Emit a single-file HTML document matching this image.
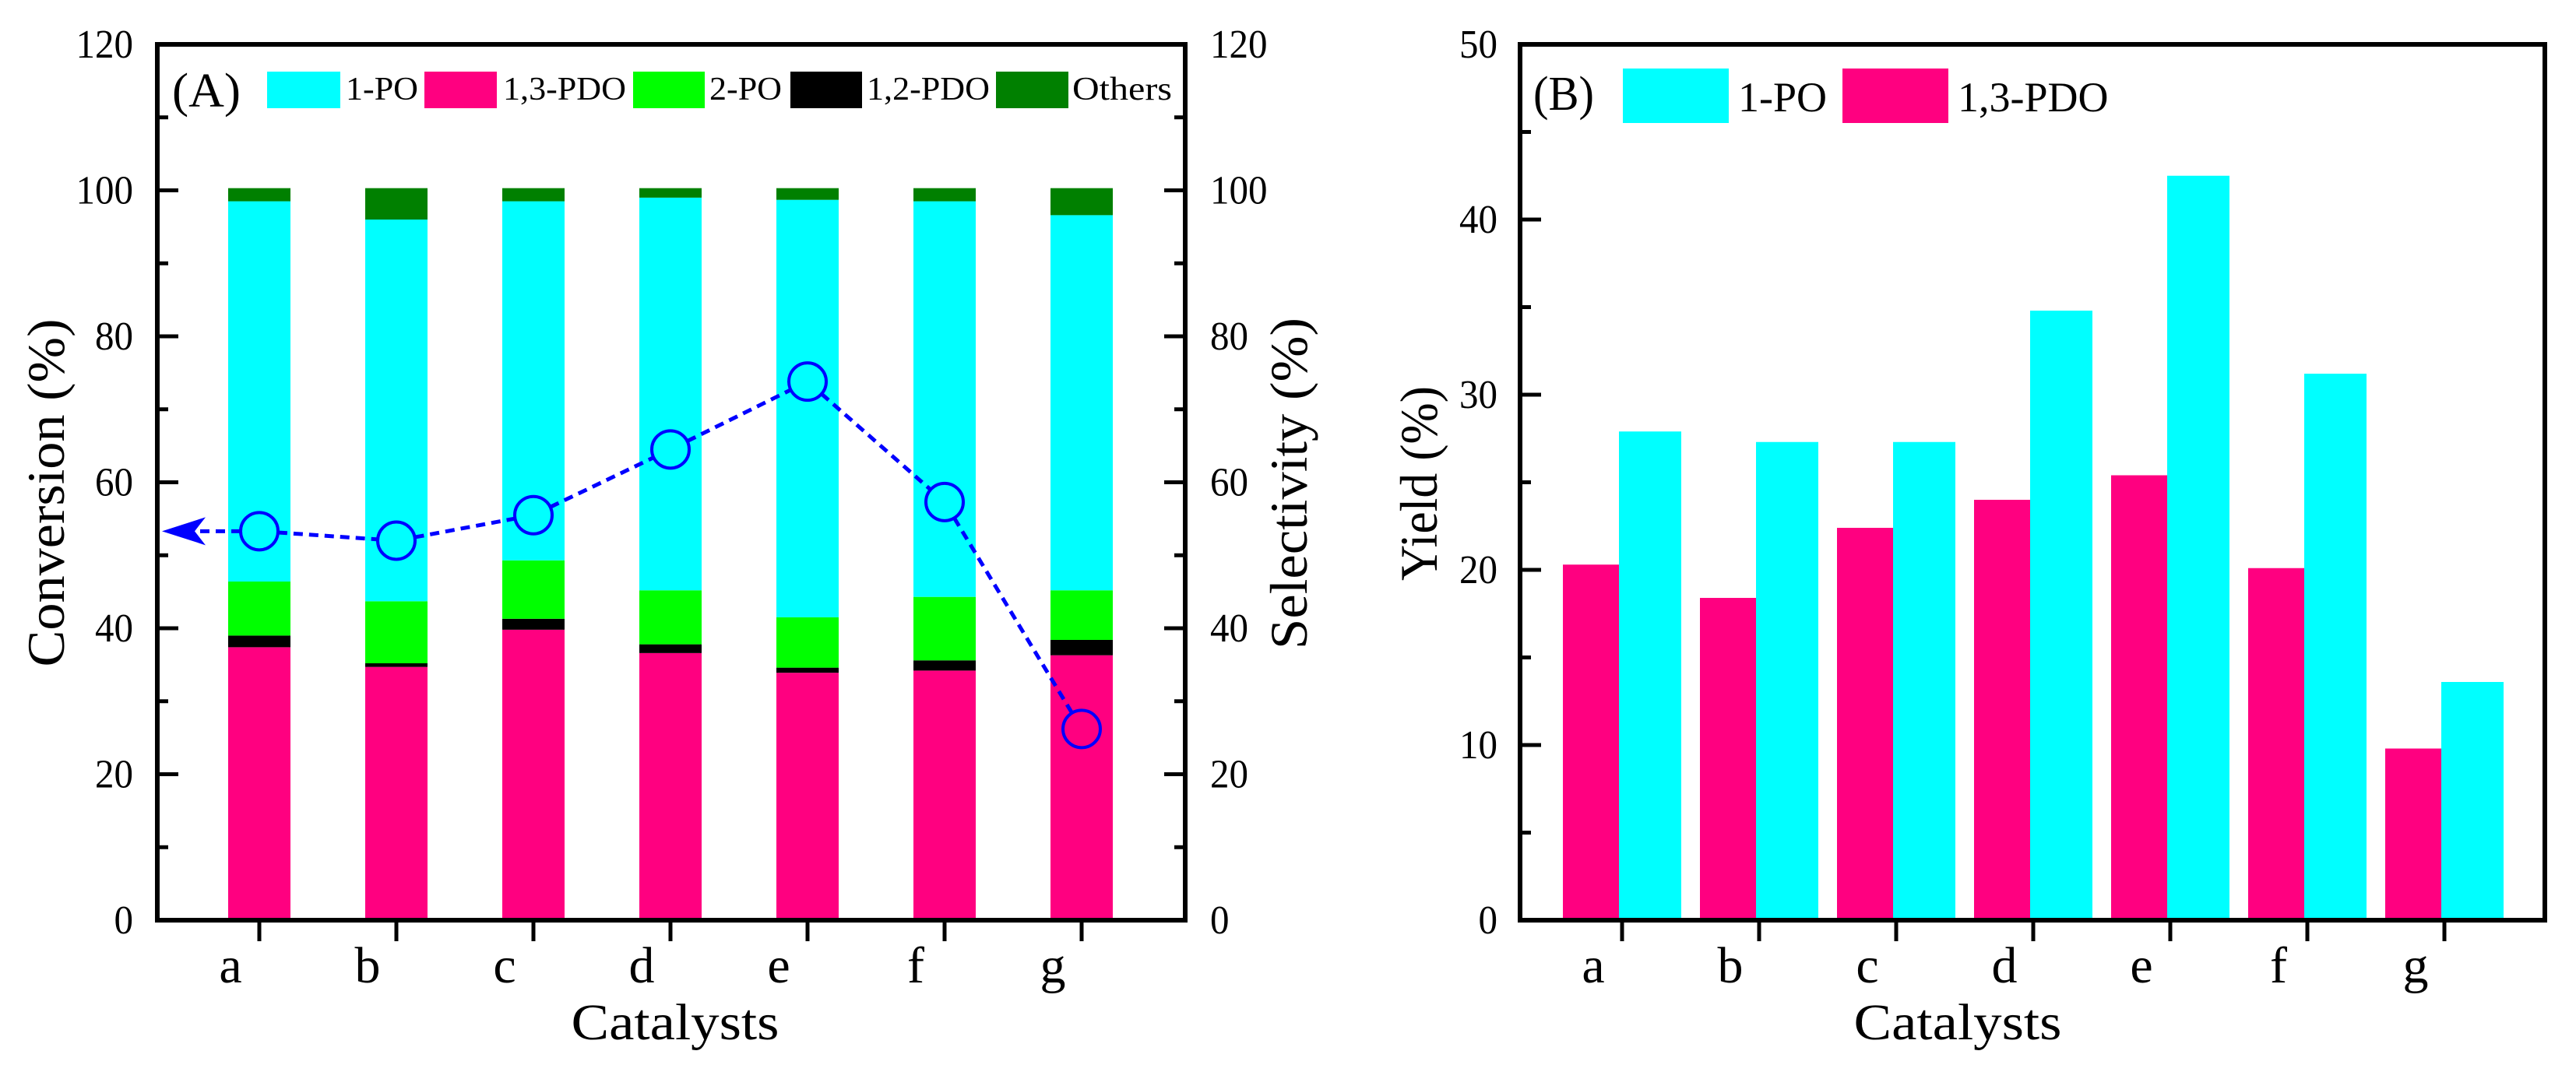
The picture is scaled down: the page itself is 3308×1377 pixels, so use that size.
<!DOCTYPE html>
<html><head><meta charset="utf-8"><style>
html,body{margin:0;padding:0;background:#fff;}
svg{display:block;}
text{font-family:"Liberation Serif",serif;fill:#000;}
</style></head><body>
<svg id="chart" width="3308" height="1377" viewBox="0 0 3308 1377" xmlns="http://www.w3.org/2000/svg">
<g id="pa"></g>
<g id="pb"></g>
</svg>
<script>
const categories = ['a','b','c','d','e','f','g'];
// Panel A cumulative stack tops (%)
const pdo13Top = [37.4,34.7,39.8,36.6,33.9,34.2,36.3];
const pdo12Top = [39.0,35.2,41.3,37.8,34.6,35.6,38.4];
const po2Top   = [46.4,43.7,49.3,45.2,41.5,44.3,45.2];
const po1Top   = [98.5,96.0,98.5,99.0,98.7,98.5,96.6];
const othersTop= [100.3,100.3,100.3,100.3,100.3,100.3,100.3];
const conversion = [53.3,52.0,55.5,64.5,73.8,57.3,26.2];
const ticksA = [0,20,40,60,80,100,120];
// Panel B yields
const yieldPO1 = [27.9,27.3,27.3,34.8,42.5,31.2,13.6];
const yieldPDO = [20.3,18.4,22.4,24.0,25.4,20.1,9.8];
const ticksB = [0,10,20,30,40,50];

const NS='http://www.w3.org/2000/svg';
function mk(parent,tag,attrs,txt){const e=document.createElementNS(NS,tag);for(const k in attrs)e.setAttribute(k,attrs[k]);if(txt!==undefined)e.textContent=txt;parent.appendChild(e);return e;}
function T(parent,attrs,txt,name){const e=mk(parent,'text',attrs,txt);


return e;}
function tickAttrs(x,y,s,anchor){const a={x:x,y:y,'font-size':52,'text-anchor':anchor,textLength:s.length*24.5,lengthAdjust:'spacingAndGlyphs'};return a;}

const yTop=57, yBot=1182;
const CATF=66, TITLEF=68;
// ---------- Panel A ----------
const pa=document.getElementById('pa');
const AL=202, AR=1522;
const yA=v=>yBot-(v/120)*(yBot-yTop);
const xA=i=>333+i*176;
const segs=[[null,pdo13Top,'#FF0080','seg-13pdo'],[pdo13Top,pdo12Top,'#000000','seg-12pdo'],[pdo12Top,po2Top,'#00FF00','seg-2po'],[po2Top,po1Top,'#00FFFF','seg-1po'],[po1Top,othersTop,'#008000','seg-others']];
categories.forEach((c,i)=>{
  segs.forEach(s=>{
    const lo=s[0]===null?0:s[0][i], hi=s[1][i];
    const r=mk(pa,'rect',{x:xA(i)-40,y:yA(hi),width:80,height:yA(lo)-yA(hi),fill:s[2]});
    
    
  });
});
const R=24;
const pts=conversion.map((v,i)=>[xA(i),yA(v)]);
for(let i=0;i<pts.length-1;i++){
  const [x1,y1]=pts[i],[x2,y2]=pts[i+1];const d=Math.hypot(x2-x1,y2-y1);const ux=(x2-x1)/d,uy=(y2-y1)/d;
  const l=mk(pa,'line',{x1:x1+ux*R,y1:y1+uy*R,x2:x2-ux*R,y2:y2-uy*R,stroke:'#0000FF','stroke-width':5,'stroke-dasharray':'12,8'});
  
  
}
pts.forEach((p,i)=>{
  const c=mk(pa,'circle',{cx:p[0],cy:p[1],r:R,fill:'none',stroke:'#0000FF','stroke-width':4});
  
  
});
const ay=pts[0][1];
const al=mk(pa,'line',{x1:pts[0][0]-R,y1:ay,x2:AL+40,y2:ay,stroke:'#0000FF','stroke-width':5,'stroke-dasharray':'12,8'});


const ah=mk(pa,'polygon',{points:`${AL+6},${ay} ${AL+62},${ay-18} ${AL+48},${ay} ${AL+62},${ay+18}`,fill:'#0000FF'});


const fa=mk(pa,'rect',{x:AL,y:yTop,width:AR-AL,height:yBot-yTop,fill:'none',stroke:'#000','stroke-width':6});


for(let v=0;v<=120;v+=10){
  const L=v%20===0?27:14;
  mk(pa,'line',{x1:AL,y1:yA(v),x2:AL+L,y2:yA(v),stroke:'#000','stroke-width':5});
  mk(pa,'line',{x1:AR,y1:yA(v),x2:AR-L,y2:yA(v),stroke:'#000','stroke-width':5});
}
ticksA.forEach(v=>{
  const s=String(v);
  T(pa,tickAttrs(171,yA(v)+17,s,'end'),s,'y-tick-label-left');
  T(pa,tickAttrs(1554,yA(v)+17,s,'start'),s,'y-tick-label-right');
});
categories.forEach((c,i)=>{
  mk(pa,'line',{x1:xA(i),y1:yBot,x2:xA(i),y2:yBot+27,stroke:'#000','stroke-width':5});
  T(pa,{x:xA(i)-37,y:1262,'font-size':CATF,'text-anchor':'middle'},c,'x-tick-label');
});
const legA=[[343,94,444,93,'#00FFFF','1-PO'],[545,93,646,158,'#FF0080','1,3-PDO'],[813,92,911,93,'#00FF00','2-PO'],[1015,92,1113,158,'#000000','1,2-PDO'],[1279,93,1377,128,'#008000','Others']];
legA.forEach(l=>{
  const g=mk(pa,'g',{});
  
  
  mk(g,'rect',{x:l[0],y:92,width:l[1],height:47,fill:l[4]});
  mk(g,'text',{x:l[2],y:128,'font-size':42,textLength:l[3],lengthAdjust:'spacingAndGlyphs'},l[5]);
});
T(pa,{x:221,y:137,'font-size':62,textLength:88,lengthAdjust:'spacingAndGlyphs'},'(A)','panel-label-a');
T(pa,{x:0,y:0,'font-size':TITLEF,'text-anchor':'middle',textLength:447,lengthAdjust:'spacingAndGlyphs',transform:'translate(82,633) rotate(-90)'},'Conversion (%)','y-axis-title-left');
T(pa,{x:0,y:0,'font-size':TITLEF,'text-anchor':'middle',textLength:426,lengthAdjust:'spacingAndGlyphs',transform:'translate(1678,621) rotate(-90)'},'Selectivity (%)','y-axis-title-right');
T(pa,{x:867,y:1335,'font-size':CATF,'text-anchor':'middle',textLength:267,lengthAdjust:'spacingAndGlyphs'},'Catalysts','x-axis-title-a');

// ---------- Panel B ----------
const pb=document.getElementById('pb');
const BL=1952, BR=3268;
const yB=v=>yBot-(v/50)*(yBot-yTop);
const xB=i=>2083+i*176;
categories.forEach((c,i)=>{
  const p=mk(pb,'rect',{x:xB(i)-76,y:yB(yieldPDO[i]),width:72,height:yBot-yB(yieldPDO[i]),fill:'#FF0080'});
  
  
  const q=mk(pb,'rect',{x:xB(i)-4,y:yB(yieldPO1[i]),width:80,height:yBot-yB(yieldPO1[i]),fill:'#00FFFF'});
  
  
  mk(pb,'line',{x1:xB(i),y1:yBot,x2:xB(i),y2:yBot+27,stroke:'#000','stroke-width':5});
  T(pb,{x:xB(i)-37,y:1262,'font-size':CATF,'text-anchor':'middle'},c,'x-tick-label');
});
const fb=mk(pb,'rect',{x:BL,y:yTop,width:BR-BL,height:yBot-yTop,fill:'none',stroke:'#000','stroke-width':6});


for(let v=0;v<=50;v+=5){
  const L=v%10===0?27:14;
  mk(pb,'line',{x1:BL,y1:yB(v),x2:BL+L,y2:yB(v),stroke:'#000','stroke-width':5});
}
ticksB.forEach(v=>{const s=String(v);T(pb,tickAttrs(1923,yB(v)+17,s,'end'),s,'y-tick-label-b');});
T(pb,{x:1969,y:141,'font-size':62,textLength:78,lengthAdjust:'spacingAndGlyphs'},'(B)','panel-label-b');
const l1=mk(pb,'rect',{x:2084,y:88,width:136,height:70,fill:'#00FFFF'});


T(pb,{x:2232,y:143,'font-size':54},'1-PO','legend-label-1po');
const l2=mk(pb,'rect',{x:2366,y:88,width:136,height:70,fill:'#FF0080'});


T(pb,{x:2514,y:143,'font-size':54},'1,3-PDO','legend-label-pdo');
T(pb,{x:0,y:0,'font-size':TITLEF,'text-anchor':'middle',textLength:250,lengthAdjust:'spacingAndGlyphs',transform:'translate(1845,621) rotate(-90)'},'Yield (%)','y-axis-title-b');
T(pb,{x:2514,y:1335,'font-size':CATF,'text-anchor':'middle',textLength:267,lengthAdjust:'spacingAndGlyphs'},'Catalysts','x-axis-title-b');
</script>
</body></html>
